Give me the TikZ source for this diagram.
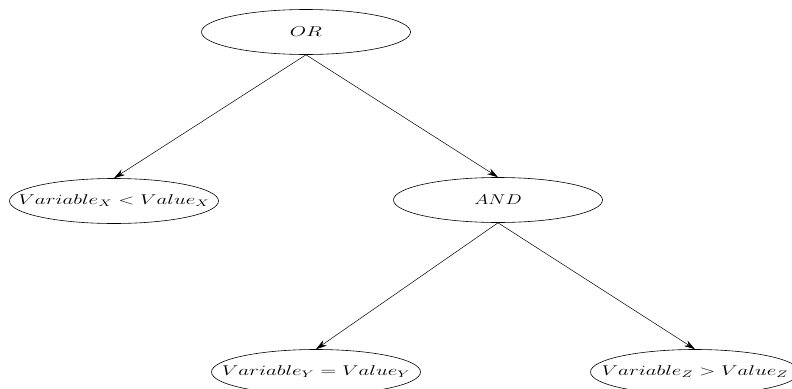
\documentclass[tikz,border=0pt]{standalone}
\usepackage{graphicx}
\usetikzlibrary{shapes.geometric,arrows.meta}
% the label is set in a zero-width box, so the ellipse keeps its fixed size
\newcommand\condlabel[2]{\makebox[0pt]{\scalebox{#1}[1.18]{$#2$}}}
\begin{document}
\begin{tikzpicture}[x=1pt,y=-1pt,
  cond/.style={draw, ellipse, minimum width=209pt, minimum height=45pt,
    inner sep=0pt, line width=0.6pt, font=\large},
  link/.style={-{Stealth[length=11pt,width=6.5pt]}, line width=0.5pt}]
\useasboundingbox (0,0) rectangle (792,388);

% boolean expression tree
\node[cond] (or)  at (306,32)  {\condlabel{1.75}{OR}};
\node[cond] (ltx) at (114,201) {\condlabel{1.75}{Variable_X < Value_X}};
\node[cond] (and) at (498,200) {\condlabel{1.6}{AND}};
\node[cond] (eqy) at (316,372) {\condlabel{1.75}{Variable_Y = Value_Y}};
\node[cond] (gtz) at (695,372) {\condlabel{1.75}{Variable_Z > Value_Z}};

\draw[link] (or.south)  -- (ltx.north);
\draw[link] (or.south)  -- (and.north);
\draw[link] (and.south) -- (eqy.north);
\draw[link] (and.south) -- (gtz.north);
\end{tikzpicture}
\end{document}
